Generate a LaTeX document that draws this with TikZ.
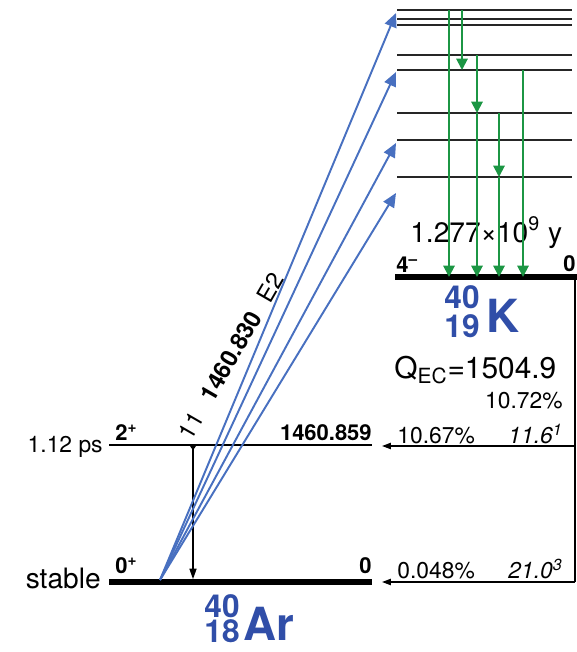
\documentclass[tikz,border=0pt]{standalone}
\usepackage{fontspec}
\setmainfont{TeX Gyre Heros}
\usepackage{tikz}
\usetikzlibrary{arrows.meta,positioning,calc}
\definecolor{feedblue}{RGB}{72,112,192}
\definecolor{nucblue}{RGB}{48,78,168}
\definecolor{gamgreen}{RGB}{28,150,68}

\begin{document}
\begin{tikzpicture}[x=0.02cm,y=-0.02cm,
    lvl/.style={line width=1.5pt, black!85},
    gslvl/.style={line width=3pt},
    feed/.style={feedblue, line width=1.1pt, -{Triangle[width=7pt,length=8pt]}},
    gam/.style={gamgreen, line width=1.1pt, -{Triangle[width=6.5pt,length=6.5pt]}},
    ecbr/.style={line width=0.8pt, -{Triangle[width=3.5pt,length=5pt]}},
    lab/.style={font=\fontsize{13}{15}\selectfont, inner sep=0pt},
    blab/.style={font=\fontsize{12.5}{14}\selectfont\bfseries, inner sep=0pt},
    big/.style={font=\fontsize{16}{19}\selectfont, inner sep=0pt},
    glab/.style={rotate=60, inner sep=0pt, font=\fontsize{13.5}{15}\selectfont},
    nuc/.style={nucblue, inner sep=0pt, font=\fontsize{18}{20}\selectfont\bfseries},
    nucsym/.style={nucblue, inner sep=0pt, font=\fontsize{26}{28}\selectfont\bfseries}]

  \useasboundingbox (0,0) rectangle (577,652);

  % 40K levels (k9 = ground state)
  \coordinate (kR) at (572,0);
  \foreach \y [count=\i] in {10,19,25,55,70,113,140,177}{
    \coordinate (k\i) at (397,\y);
    \draw[lvl] (k\i) -- (kR |- k\i);
  }
  \coordinate (k9) at (395,277);
  \coordinate (kgsR) at (577,277);
  \draw[gslvl] (k9) -- (kgsR);

  % 40Ar levels
  \coordinate (ar2L) at (109,445);
  \coordinate (ar2R) at (372,445);
  \coordinate (ar0L) at (109,582);
  \coordinate (ar0R) at (372,582);
  \draw[line width=0.9pt] (ar2L) -- (ar2R);
  \draw[gslvl] (ar0L) -- (ar0R);

  % EC branches
  \coordinate (ecx) at (575,0);
  \coordinate (ec2) at (382,446);
  \coordinate (ec0) at (382,582);
  \draw[line width=0.8pt] (ecx |- k9) -- (ecx |- ec0);
  \draw[ecbr] (ecx |- ec2) -- (ec2);
  \draw[ecbr] (ecx |- ec0) -- (ec0);

  % gamma 2+ -> 0+
  \coordinate (gx) at (193,0);
  \draw[line width=0.8pt, shorten >=1.6pt,
        {Triangle[reversed,width=4pt,length=3pt]}-{Triangle[width=4pt,length=6pt]}]
    (gx |- ar2L) -- (gx |- ar0L);
  \node[glab] (gam20) at (231,356)
    {11\hspace{9.8pt}\textbf{1460.830}\hspace{8.5pt}E2};

  % level labels
  \node[lab, anchor=base east] (t2) at (103,452) {1.12 ps};
  \node[big, anchor=base east] (t0) at (101,588) {stable};
  \node[blab, anchor=base west] (j2) at (115,440) {2\textsuperscript{+}};
  \node[blab, anchor=base east] (e2) at (372,440) {1460.859};
  \node[blab, anchor=base west] (j0) at (115,573) {0\textsuperscript{+}};
  \node[blab, anchor=base east] (e0) at (372,573) {0};
  \node[blab, anchor=base west] (jk) at (396,272) {4\textsuperscript{–}};
  \node[blab, anchor=base east] (ek) at (576,271) {0};
  \node[big, anchor=base west] (hl) at (410,242) {1.277×10\textsuperscript{9} y};
  \node[inner sep=0pt, font=\fontsize{17}{20}\selectfont, anchor=base west]
    (qec) at (394,378) {Q\textsubscript{EC}=1504.9};
  \node[lab, anchor=base east] (ib) at (563,408) {10.72\%};
  \node[lab, anchor=base west] (i2) at (397,443) {10.67\%};
  \node[lab, anchor=base east] (lf2) at (563,443) {\textit{11.6\textsuperscript{1}}};
  \node[lab, anchor=base west] (i0) at (397,578) {0.048\%};
  \node[lab, anchor=base east] (lf0) at (563,578) {\textit{21.0\textsuperscript{3}}};

  % nuclide names
  \node[nuc, anchor=base east] (arA) at (240,617) {40};
  \node[nuc, anchor=base east] (arZ) at (240,642) {18};
  \node[nucsym, anchor=base west] (arS) at (243,640) {Ar};
  \node[nuc, anchor=base east] (kA) at (480,308) {40};
  \node[nuc, anchor=base east] (kZ) at (480,337) {19};
  \node[nucsym, anchor=base west] (kS) at (486,332) {K};

  % feeding from 40Ar ground state
  \coordinate (feed) at (160,580);
  \foreach \y [count=\i] in {13,72,143,193}{
    \coordinate (b\i) at (396,\y);
    \draw[feed] (feed) -- (b\i);
  }

  % gammas in 40K
  \foreach \x/\a/\b in {449/1/9, 462/1/5, 477/4/6, 477/6/9,
                        499/6/8, 499/8/9, 523/5/9}{
    \coordinate (gc) at (\x,0);
    \draw[gam] (gc |- k\a) -- (gc |- k\b);
  }
\end{tikzpicture}
\end{document}
